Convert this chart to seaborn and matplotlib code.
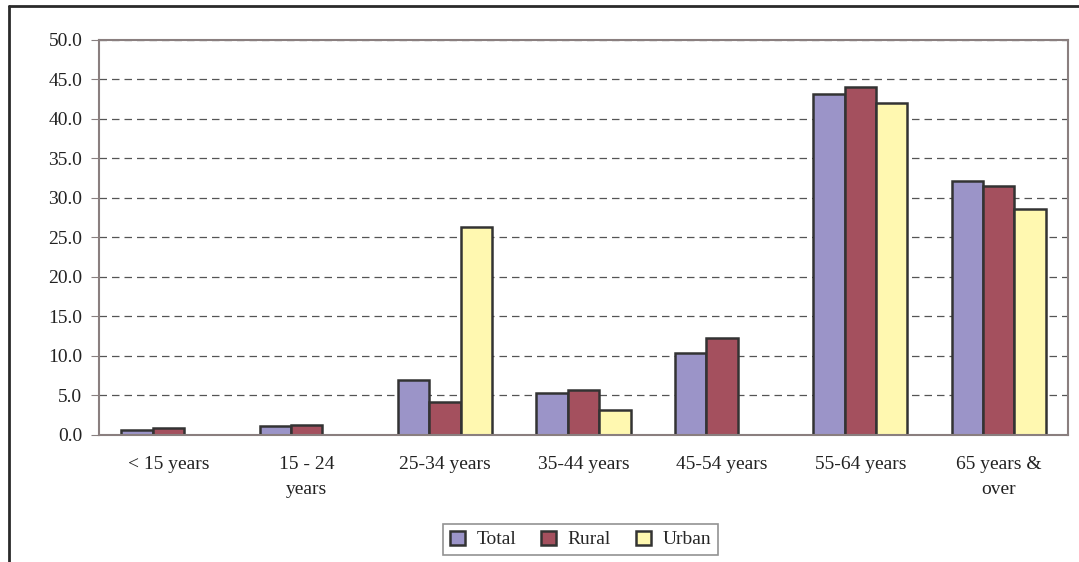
import pandas as pd
import matplotlib.pyplot as plt
import seaborn as sns
from matplotlib.lines import Line2D
from matplotlib.ticker import MultipleLocator, FixedLocator

# data
categories = ["< 15 years", "15 - 24\nyears", "25-34 years", "35-44 years",
              "45-54 years", "55-64 years", "65 years &\nover"]
total = [0.6, 1.1, 7.0, 5.3, 10.4, 43.2, 32.2]
rural = [0.9, 1.3, 4.2, 5.7, 12.3, 44.1, 31.5]
urban = [0.0, 0.0, 26.3, 3.2, 0.0, 42.0, 28.6]
series = ["Total", "Rural", "Urban"]
colors = ["#9B94C8", "#A4505E", "#FFF8B0"]

df = pd.DataFrame({"group": categories * 3,
                   "series": [s for s in series for _ in categories],
                   "value": total + rural + urban})

sns.set_style("white")
plt.rcParams["font.family"] = ["Liberation Serif", "DejaVu Serif"]

fig = plt.figure(figsize=(10.79, 5.62), dpi=100)
ax = fig.add_axes([0.0918, 0.226, 0.898, 0.703])

sns.barplot(data=df, x="group", y="value", hue="series", palette=colors,
            width=0.68, saturation=1, edgecolor="#333333", linewidth=1.8,
            ax=ax, legend=True)

ax.set_ylim(0, 50)
ax.set_xlim(-0.5, len(categories) - 0.5)
ax.yaxis.set_major_locator(MultipleLocator(5))
ax.set_yticklabels([f"{v:.1f}" for v in ax.get_yticks()])
ax.yaxis.grid(True, linestyle=(0, (6, 4)), color="#555555", linewidth=0.9)
ax.set_axisbelow(True)
ax.set_xlabel("")
ax.set_ylabel("")

# ticks between groups on x axis
ax.xaxis.set_major_locator(FixedLocator(range(len(categories))))
ax.set_xticklabels(categories, linespacing=1.6)
ax.xaxis.set_minor_locator(FixedLocator([i - 0.5 for i in range(len(categories) + 1)]))
ax.tick_params(axis="x", which="major", length=0, pad=15, labelsize=14, colors="#222222")
ax.tick_params(axis="x", which="minor", length=5, color="#888080", direction="out")
ax.tick_params(axis="y", length=6, color="#888080", direction="out", labelsize=14,
               colors="#222222", left=True, pad=6)

for side in ["left", "bottom", "top", "right"]:
    ax.spines[side].set_visible(True)
    ax.spines[side].set_color("#8a7f7f")
    ax.spines[side].set_linewidth(1.5)

leg = ax.legend(loc="upper center", bbox_to_anchor=(0.497, -0.2), ncol=3,
                frameon=True, fancybox=False, edgecolor="#777777",
                fontsize=14, handlelength=0.75, handleheight=0.75,
                handletextpad=0.6, columnspacing=1.3, borderpad=0.35)
leg.get_frame().set_linewidth(1.2)

# outer chart frame (top and left edges visible)
fig.add_artist(Line2D([9 / 1079, 1.0], [1 - 6 / 562, 1 - 6 / 562],
                      transform=fig.transFigure, color="#2a2a2a", linewidth=2))
fig.add_artist(Line2D([9 / 1079, 9 / 1079], [0.0, 1 - 6 / 562],
                      transform=fig.transFigure, color="#2a2a2a", linewidth=2))

plt.savefig("out.png", dpi=100)
plt.close()
